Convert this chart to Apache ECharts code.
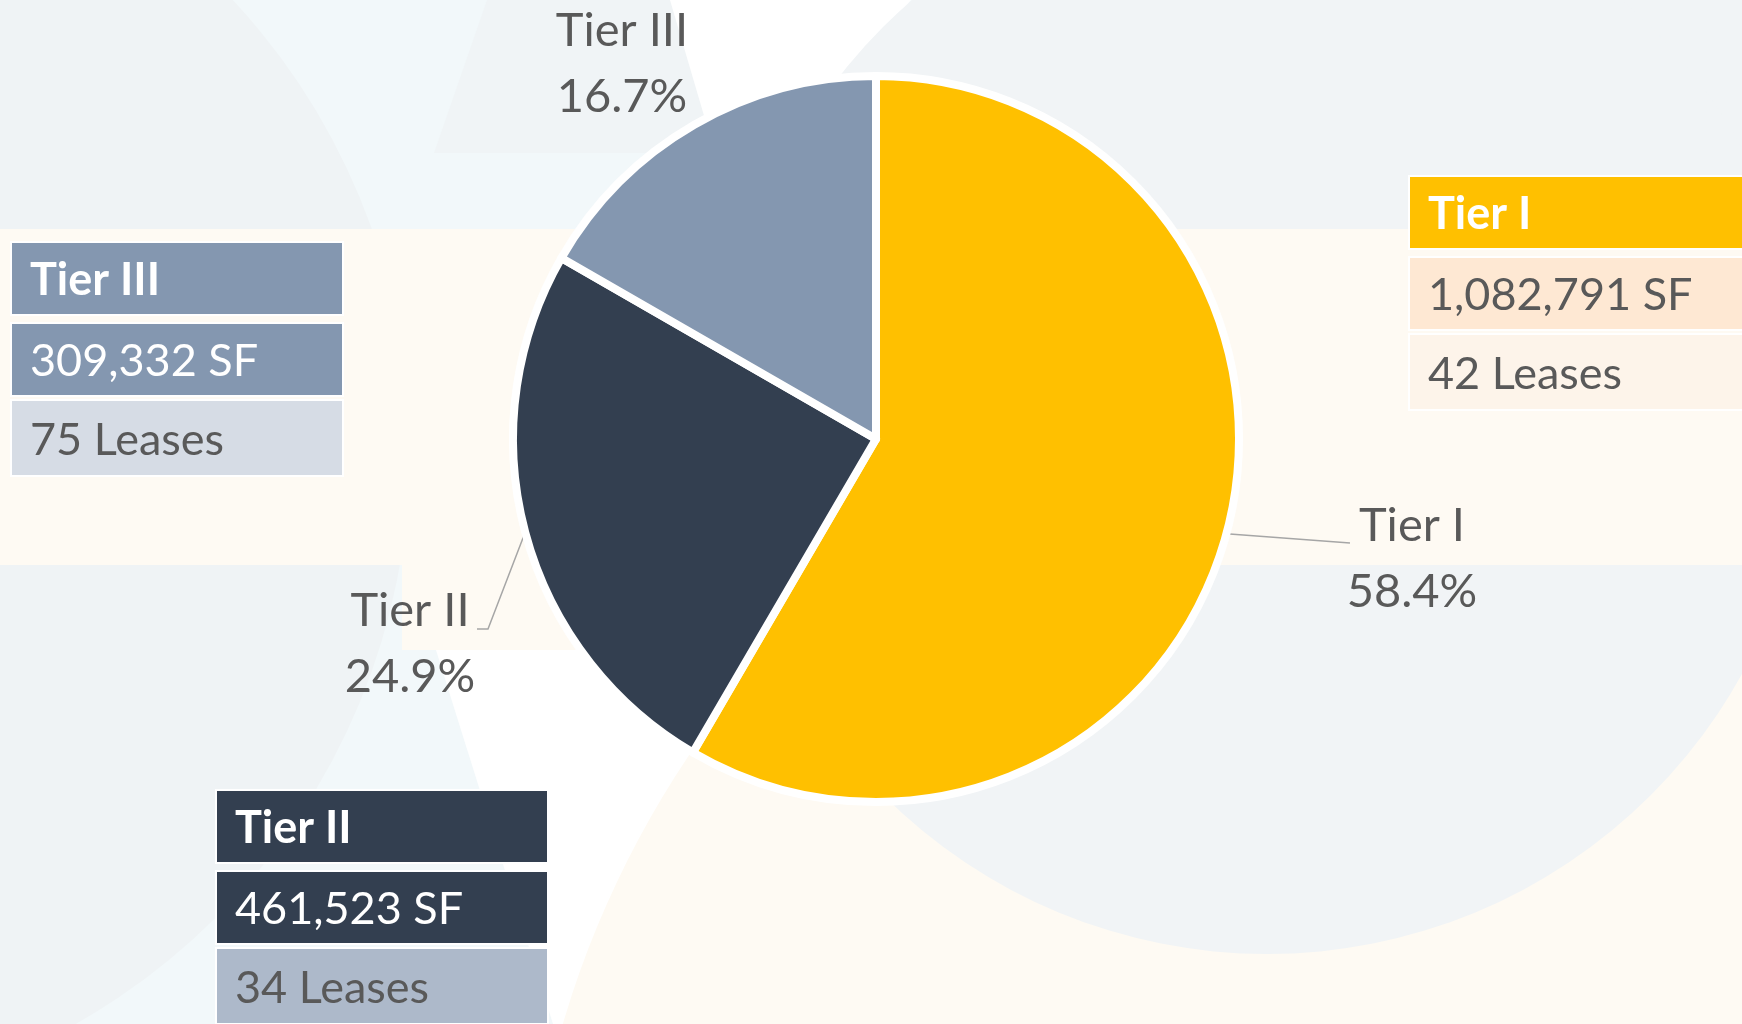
<!DOCTYPE html>
<html>
<head>
<meta charset="utf-8">
<script src="https://cdn.jsdelivr.net/npm/echarts@6/dist/echarts.min.js"></script>
</head>
<body style="margin:0">
<div id="main" style="width:1742px;height:1024px"></div>
<script>
// data
var tiers = ['Tier I', 'Tier II', 'Tier III'];
var sqFeet = [1082791, 461523, 309332];
var leases = [42, 34, 75];

var FONT = 'Lato, "Open Sans", sans-serif';
var sliceColors = ['#ffc000', '#333f50', '#8497b0'];

// label placement (center of the two-line label) + leader line end offsets
var labelPos = [
    {x: 1412, y: 559, line: [-62, -16, -62]},
    {x: 410, y: 644, line: [78, -15, 67]},
    {x: 622, y: 64}
];

// the three info tables
var tables = [
    {x: 1409, y: 176, w: 400, head: '#ffc000', mid: '#fee8d3', low: '#fdf4ea', midText: '#595959'},
    {x: 216, y: 790, w: 332, head: '#333f50', mid: '#333f50', low: '#adb9ca', midText: '#ffffff'},
    {x: 11, y: 242, w: 332, head: '#8497b0', mid: '#8497b0', low: '#d6dce5', midText: '#ffffff'}
];

var myChart = echarts.init(document.getElementById('main'));

function fmt(n) {
    return n.toString().replace(/\B(?=(\d{3})+(?!\d))/g, ',');
}

function cell(y, h, w, fill, txt, color, bold) {
    return [{
        type: 'rect',
        shape: {x: 0, y: y, width: w, height: h},
        style: {fill: fill, stroke: '#ffffff', lineWidth: 2}
    }, {
        type: 'text',
        style: {
            text: txt, x: 19, y: y + h / 2 + 2,
            fill: color,
            font: (bold ? 'bold ' : '') + '45px ' + FONT,
            textVerticalAlign: 'middle', verticalAlign: 'middle'
        }
    }];
}

var tableEls = tables.map(function (t, i) {
    var kids = []
        .concat(cell(0, 73, t.w, t.head, tiers[i], '#ffffff', true))
        .concat(cell(81, 73, t.w, t.mid, fmt(sqFeet[i]) + ' SF', t.midText, false))
        .concat(cell(158, 76, t.w, t.low, leases[i] + ' Leases', '#595959', false));
    return {type: 'group', x: t.x, y: t.y, z: 10, children: kids};
});

// faint decorative background
var bg = [
    {type: 'circle', shape: {cx: -250, cy: 450, r: 660}, style: {fill: '#eff3f5'}},
    {type: 'polygon', shape: {points: [[487, 0], [684, 0], [715, 153], [434, 153]]}, style: {fill: '#f0f4f6'}},
    {type: 'polygon', shape: {points: [[670, 0], [911, 0], [845, 77], [780, 229], [700, 229], [715, 153]]}, style: {fill: '#ffffff'}},
    {type: 'polygon', shape: {points: [[436, 650], [760, 650], [760, 1024], [553, 1024]]}, style: {fill: '#ffffff'}},
    {type: 'circle', shape: {cx: 1500, cy: 1300, r: 977}, style: {fill: '#fefaf3'}},
    {type: 'rect', shape: {x: 1267, y: 0, width: 475, height: 411}, style: {fill: '#f1f4f6'}},
    {type: 'circle', shape: {cx: 1267, cy: 411, r: 543}, style: {fill: '#f1f4f6'}},
    {type: 'rect', shape: {x: 0, y: 229, width: 1742, height: 336}, style: {fill: '#fefaf3'}},
    {type: 'rect', shape: {x: 402, y: 565, width: 200, height: 85}, style: {fill: '#fefaf3'}}
].map(function (e) { e.z = 0; e.silent = true; return e; });

var option = {
    backgroundColor: '#f2f8fa',
    animation: false,
    graphic: {elements: bg.concat(tableEls)},
    series: [{
        type: 'pie',
        center: [876, 439],
        radius: 363,
        startAngle: 90,
        clockwise: true,
        percentPrecision: 1,
        avoidLabelOverlap: false,
        silent: true,
        itemStyle: {borderColor: '#ffffff', borderWidth: 8},
        label: {
            show: true,
            formatter: '{b}\n{d}%',
            color: '#595959',
            fontSize: 47,
            lineHeight: 66,
            fontFamily: FONT,
            align: 'center'
        },
        labelLine: {show: true, lineStyle: {color: '#a6a6a6', width: 1.5}},
        labelLayout: function (params) {
            var lp = labelPos[params.dataIndex];
            var out = {x: lp.x, y: lp.y, align: 'center', verticalAlign: 'middle'};
            if (lp.line && params.labelLinePoints) {
                var p0 = params.labelLinePoints[0];
                out.labelLinePoints = [
                    p0,
                    [lp.x + lp.line[0], lp.y + lp.line[1]],
                    [lp.x + lp.line[2], lp.y + lp.line[1]]
                ];
            }
            return out;
        },
        data: tiers.map(function (n, i) {
            return {
                name: n,
                value: sqFeet[i],
                itemStyle: {color: sliceColors[i]},
                labelLine: {show: !!labelPos[i].line}
            };
        })
    }]
};

myChart.setOption(option);
</script>
</body>
</html>
